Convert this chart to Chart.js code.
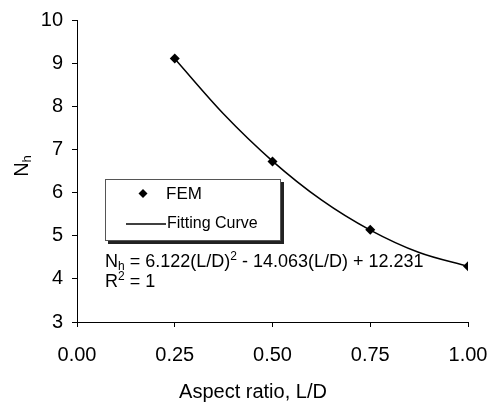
<!DOCTYPE html>
<html>
<head>
<meta charset="utf-8">
<script src="https://cdn.jsdelivr.net/npm/chart.js@4.4.1/dist/chart.umd.min.js"></script>
<style>
  html, body { margin: 0; padding: 0; background: #fff; }
  canvas { display: block; }
</style>
</head>
<body>
<canvas id="nhChart" width="495" height="407"></canvas>
<script>
// data
var aspectRatio = [0.25, 0.50, 0.75, 1.00];
var femValues = [9.11, 6.72, 5.14, 4.29];
var curveX = [0.25, 0.375, 0.50, 0.625, 0.75, 0.875, 1.00];
var curveValues = [9.10, 7.82, 6.73, 5.83, 5.13, 4.61, 4.29];
var xTickValues = [0, 0.25, 0.50, 0.75, 1.00];
var yTickValues = [3, 4, 5, 6, 7, 8, 9, 10];
var xTitle = 'Aspect ratio, L/D';
var legendLabels = ['FEM', 'Fitting Curve'];
var equationLine = ' = 6.122(L/D)';
var equationRest = ' - 14.063(L/D) + 12.231';

var font = '"Liberation Sans", Arial, sans-serif';

// legend, equation and titles drawn on top
var overlay = {
    id: 'overlay',
    afterDraw: function (chart) {
        var c = chart.ctx;
        c.save();

        // legend box with shadow
        c.fillStyle = '#222';
        c.fillRect(108, 182, 176, 62);
        c.fillStyle = '#fff';
        c.fillRect(105, 179, 175, 61);
        c.lineWidth = 1;
        c.strokeStyle = '#555';
        c.strokeRect(105.5, 179.5, 175, 61);

        c.fillStyle = '#000';
        c.strokeStyle = '#000';
        c.beginPath();
        c.moveTo(143, 189); c.lineTo(147.5, 193.5); c.lineTo(143, 198); c.lineTo(138.5, 193.5);
        c.closePath();
        c.fill();
        c.font = '17px ' + font;
        c.textBaseline = 'middle';
        c.textAlign = 'left';
        c.fillText(legendLabels[0], 166, 194);
        c.font = '16px ' + font;
        c.lineWidth = 1.5;
        c.beginPath();
        c.moveTo(126, 224); c.lineTo(166, 224);
        c.stroke();
        c.fillText(legendLabels[1], 167, 224);

        // equation
        c.textBaseline = 'alphabetic';
        var x = 105, y = 267;
        c.font = '18px ' + font;
        c.fillText('N', x, y); x += c.measureText('N').width;
        c.font = '12px ' + font;
        c.fillText('h', x, y + 3); x += c.measureText('h').width;
        c.font = '18px ' + font;
        c.fillText(equationLine, x, y); x += c.measureText(equationLine).width;
        c.font = '12px ' + font;
        c.fillText('2', x, y - 7); x += c.measureText('2').width;
        c.font = '18px ' + font;
        c.fillText(equationRest, x, y);

        x = 105; y = 287;
        c.fillText('R', x, y); x += c.measureText('R').width;
        c.font = '12px ' + font;
        c.fillText('2', x, y - 7); x += c.measureText('2').width;
        c.font = '18px ' + font;
        c.fillText(' = 1', x, y);

        // x title
        c.font = '20px ' + font;
        c.textAlign = 'center';
        c.textBaseline = 'middle';
        c.fillText(xTitle, 253, 392);

        // y title N_h, rotated
        c.translate(22, 166);
        c.rotate(-Math.PI / 2);
        c.textAlign = 'left';
        c.textBaseline = 'middle';
        c.font = '20px ' + font;
        var wN = c.measureText('N').width;
        c.font = '13px ' + font;
        var wh = c.measureText('h').width;
        var sx = -(wN + wh) / 2;
        c.font = '20px ' + font;
        c.fillText('N', sx, 0);
        c.font = '13px ' + font;
        c.fillText('h', sx + wN, 5);
        c.restore();
    }
};

var ctx = document.getElementById('nhChart').getContext('2d');
var chart = new Chart(ctx, {
    type: 'scatter',
    data: {
        datasets: [{
            label: legendLabels[0],
            data: aspectRatio.map(function (v, i) { return { x: v, y: femValues[i] }; }),
            pointStyle: 'rectRot',
            pointRadius: 5,
            backgroundColor: '#000',
            borderColor: '#000',
            borderWidth: 0,
            showLine: false,
            order: 0
        }, {
            label: legendLabels[1],
            data: curveX.map(function (v, i) { return { x: v, y: curveValues[i] }; }),
            showLine: true,
            cubicInterpolationMode: 'monotone',
            borderColor: '#000',
            borderWidth: 1.5,
            pointRadius: 0,
            order: 1
        }]
    },
    options: {
        responsive: false,
        animation: false,
        layout: { padding: { top: 20, right: 27, left: 0, bottom: 0 } },
        plugins: { legend: { display: false }, tooltip: { enabled: false } },
        scales: {
            x: {
                type: 'linear',
                min: 0,
                max: 1,
                afterBuildTicks: function (s) { s.ticks = xTickValues.map(function (v) { return { value: v }; }); },
                afterFit: function (s) { s.height = 85; s.paddingLeft = 0; s.paddingRight = 0; },
                grid: { drawOnChartArea: false, tickLength: 5, color: '#000' },
                border: { display: true, color: '#000', width: 1 },
                ticks: {
                    color: '#000',
                    padding: 16,
                    maxRotation: 0,
                    font: { family: font, size: 20 },
                    callback: function (v) { return v.toFixed(2); }
                }
            },
            y: {
                type: 'linear',
                min: 3,
                max: 10,
                afterBuildTicks: function (s) { s.ticks = yTickValues.map(function (v) { return { value: v }; }); },
                afterFit: function (s) { s.width = 77; s.paddingTop = 0; s.paddingBottom = 0; },
                grid: { drawOnChartArea: false, tickLength: 5, color: '#000' },
                border: { display: true, color: '#000', width: 1 },
                ticks: {
                    color: '#000',
                    padding: 9,
                    font: { family: font, size: 20 }
                }
            }
        }
    },
    plugins: [overlay]
});
</script>
</body>
</html>
